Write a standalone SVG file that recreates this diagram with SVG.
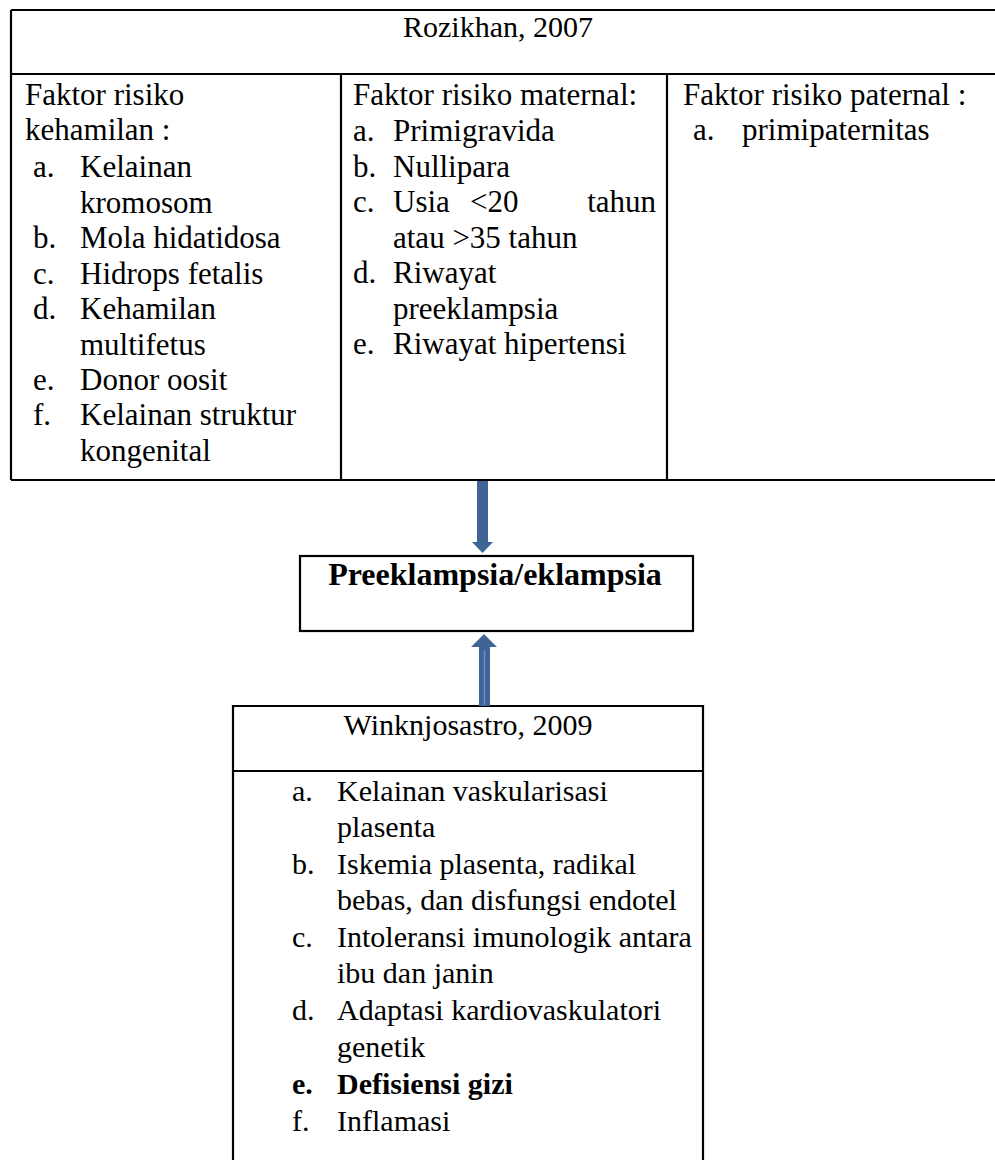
<svg xmlns="http://www.w3.org/2000/svg" width="995" height="1160" viewBox="0 0 995 1160">
<style>
.t{font-family:"Liberation Serif","Times New Roman",serif;font-size:31px;fill:#000}
.s{font-family:"Liberation Serif","Times New Roman",serif;font-size:30px;fill:#000}
.b{font-weight:bold}
.ln{stroke:#000;stroke-width:2.2;fill:none}
.arr{fill:#3F6596}
</style>
<rect width="995" height="1160" fill="#fff"/>
<g id="rozikhan">
<path class="ln" d="M11,10 H995 M11,74 H995 M11,480 H995 M11,10 V480 M341,74 V480 M667,74 V480"/>
<text class="s" x="498" y="37" text-anchor="middle">Rozikhan, 2007</text>
</g>
<g id="kehamilan">
<text class="t" x="25" y="105">Faktor risiko</text>
<text class="t" x="25" y="140">kehamilan :</text>
<text class="t" x="33" y="177">a.</text><text class="t" x="80" y="177">Kelainan</text>
<text class="t" x="80" y="213">kromosom</text>
<text class="t" x="33" y="248">b.</text><text class="t" x="80" y="248">Mola hidatidosa</text>
<text class="t" x="33" y="284">c.</text><text class="t" x="80" y="284">Hidrops fetalis</text>
<text class="t" x="33" y="319">d.</text><text class="t" x="80" y="319">Kehamilan</text>
<text class="t" x="80" y="355">multifetus</text>
<text class="t" x="33" y="390">e.</text><text class="t" x="80" y="390">Donor oosit</text>
<text class="t" x="33" y="425">f.</text><text class="t" x="80" y="425">Kelainan struktur</text>
<text class="t" x="80" y="461">kongenital</text>
</g>
<g id="maternal">
<text class="t" x="353" y="105">Faktor risiko maternal:</text>
<text class="t" x="353" y="141">a.</text><text class="t" x="393" y="141">Primigravida</text>
<text class="t" x="353" y="177">b.</text><text class="t" x="393" y="177">Nullipara</text>
<text class="t" x="353" y="212">c.</text><text class="t" x="393" y="212">Usia</text><text class="t" x="470" y="212">&lt;20</text><text class="t" x="656" y="212" text-anchor="end">tahun</text>
<text class="t" x="393" y="248">atau &gt;35 tahun</text>
<text class="t" x="353" y="283">d.</text><text class="t" x="393" y="283">Riwayat</text>
<text class="t" x="393" y="319">preeklampsia</text>
<text class="t" x="353" y="354">e.</text><text class="t" x="393" y="354">Riwayat hipertensi</text>
</g>
<g id="paternal">
<text class="t" x="683" y="105">Faktor risiko paternal :</text>
<text class="t" x="693" y="140">a.</text><text class="t" x="742" y="140">primipaternitas</text>
</g>
<g id="preeklampsia">
<rect class="ln" x="300" y="556" width="393" height="75"/>
<text class="t b" x="495" y="585" text-anchor="middle" style="font-size:32px">Preeklampsia/eklampsia</text>
</g>
<g id="winknjosastro">
<path class="ln" d="M233,1160 V706 H703 V1160 M233,771 H703"/>
<text class="s" x="468" y="735" text-anchor="middle">Winknjosastro, 2009</text>
<text class="s" x="292" y="801">a.</text><text class="s" x="337" y="801">Kelainan vaskularisasi</text>
<text class="s" x="337" y="837">plasenta</text>
<text class="s" x="292" y="874">b.</text><text class="s" x="337" y="874">Iskemia plasenta, radikal</text>
<text class="s" x="337" y="910">bebas, dan disfungsi endotel</text>
<text class="s" x="292" y="947">c.</text><text class="s" x="337" y="947">Intoleransi imunologik antara</text>
<text class="s" x="337" y="983">ibu dan janin</text>
<text class="s" x="292" y="1020">d.</text><text class="s" x="337" y="1020">Adaptasi kardiovaskulatori</text>
<text class="s" x="337" y="1057">genetik</text>
<text class="s b" x="292" y="1094">e.</text><text class="s b" x="337" y="1094">Defisiensi gizi</text>
<text class="s" x="292" y="1131">f.</text><text class="s" x="337" y="1131">Inflamasi</text>
</g>
<g id="connectors">
<polygon class="arr" points="477,481 488,481 488,542 493,542 482.5,553 472,542 477,542"/>
<polygon class="arr" points="479,706 490,706 490,647 497,647 484,634 471,647 479,647"/>
<line x1="484.5" y1="650" x2="484.5" y2="705" stroke="#6A8FC4" stroke-width="1.5"/>
</g>
</svg>
